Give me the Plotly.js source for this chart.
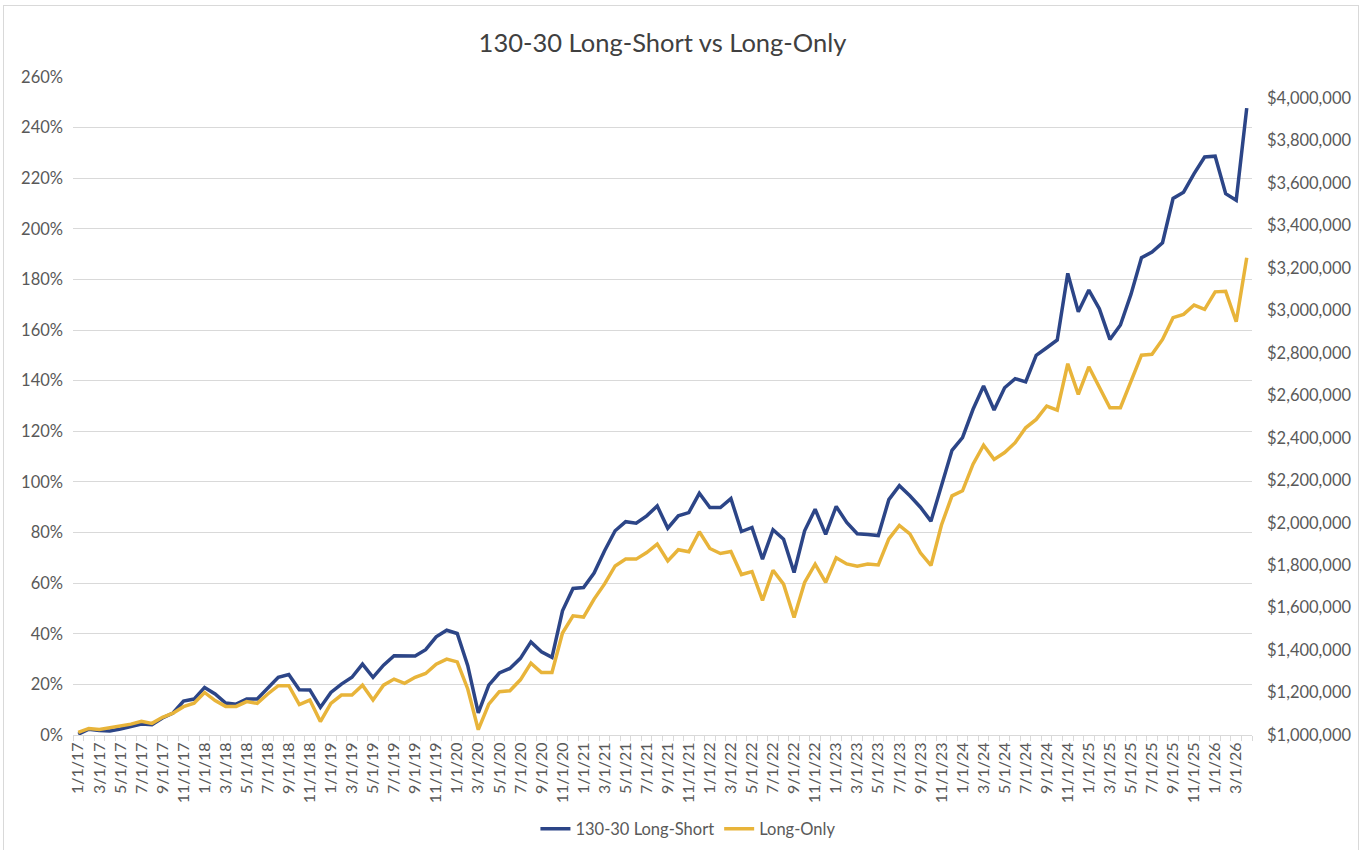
<!DOCTYPE html>
<html><head><meta charset="utf-8">
<script src="https://cdn.plot.ly/plotly-3.0.1.min.js"></script>
<style>
html,body{margin:0;padding:0;background:#fff;}
#frame{position:absolute;left:3px;top:5px;width:1356px;height:846px;border:1px solid #d9d9d9;border-bottom:none;box-sizing:border-box;}
#chart{position:absolute;left:4px;top:6px;width:1354px;height:844px;}
</style></head><body>
<div id="frame"></div>
<div id="chart"></div>
<script>
const months = [
"1/1/17","2/1/17","3/1/17","4/1/17","5/1/17","6/1/17","7/1/17","8/1/17","9/1/17","10/1/17","11/1/17","12/1/17",
"1/1/18","2/1/18","3/1/18","4/1/18","5/1/18","6/1/18","7/1/18","8/1/18","9/1/18","10/1/18","11/1/18","12/1/18",
"1/1/19","2/1/19","3/1/19","4/1/19","5/1/19","6/1/19","7/1/19","8/1/19","9/1/19","10/1/19","11/1/19","12/1/19",
"1/1/20","2/1/20","3/1/20","4/1/20","5/1/20","6/1/20","7/1/20","8/1/20","9/1/20","10/1/20","11/1/20","12/1/20",
"1/1/21","2/1/21","3/1/21","4/1/21","5/1/21","6/1/21","7/1/21","8/1/21","9/1/21","10/1/21","11/1/21","12/1/21",
"1/1/22","2/1/22","3/1/22","4/1/22","5/1/22","6/1/22","7/1/22","8/1/22","9/1/22","10/1/22","11/1/22","12/1/22",
"1/1/23","2/1/23","3/1/23","4/1/23","5/1/23","6/1/23","7/1/23","8/1/23","9/1/23","10/1/23","11/1/23","12/1/23",
"1/1/24","2/1/24","3/1/24","4/1/24","5/1/24","6/1/24","7/1/24","8/1/24","9/1/24","10/1/24","11/1/24","12/1/24",
"1/1/25","2/1/25","3/1/25","4/1/25","5/1/25","6/1/25","7/1/25","8/1/25","9/1/25","10/1/25","11/1/25","12/1/25",
"1/1/26","2/1/26","3/1/26","4/1/26"
];

// cumulative return, %
const longShort = [
0.3,2.3,1.8,1.6,2.4,3.4,4.3,4.1,6.7,8.7,13.4,14.2,
18.8,16.2,12.6,12.2,14.2,14.2,18.4,22.8,23.9,17.9,17.8,10.9,
16.8,20.1,22.8,28.0,22.8,27.6,31.3,31.1,31.2,33.7,38.8,41.4,
40.1,27.4,8.7,19.7,24.5,26.3,30.3,36.8,32.9,30.7,49.1,57.9,
58.3,64.0,72.8,80.7,84.3,83.7,86.6,90.5,81.7,86.6,87.9,95.5,
89.9,89.9,93.4,80.4,82.0,69.5,81.1,77.4,64.2,80.7,89.2,79.3,
90.3,84.0,79.5,79.2,78.8,93.0,98.5,94.5,90.0,84.5,98.0,112.5,
117.5,128.7,137.9,128.4,137.2,140.8,139.5,150.0,153.0,156.1,182.4,167.2,
175.8,168.4,156.3,162.0,174.1,188.6,190.8,194.5,212.0,214.5,221.8,228.4,
228.7,213.9,211.3,247.7
];

const longOnly = [
1.0,2.6,2.2,2.9,3.3,4.3,5.4,4.6,7.0,8.6,11.2,12.6,
16.8,13.6,11.3,11.3,13.2,12.5,16.2,19.5,19.5,12.0,13.8,5.3,
12.5,15.8,15.8,19.7,13.8,19.7,22.1,20.4,22.8,24.3,28.0,30.0,
28.9,18.2,2.1,12.2,17.1,17.5,21.8,28.4,24.7,24.7,40.3,47.1,
46.6,53.7,59.7,66.8,69.5,69.5,72.1,75.4,68.8,73.2,72.4,80.3,
73.7,71.7,72.5,63.4,64.6,53.2,65.1,59.6,46.4,60.3,67.5,60.3,
70.0,67.6,66.7,67.6,67.2,77.5,82.8,79.5,72.0,67.0,83.0,94.5,
96.5,107.0,114.5,108.9,111.6,115.5,121.4,124.7,130.0,128.4,146.7,134.6,
145.5,137.6,129.3,129.3,139.9,150.1,150.4,156.3,164.9,166.2,169.9,168.2,
175.1,175.3,163.3,188.6
];

const seriesNames = ["130-30 Long-Short", "Long-Only"];
const titleText = "130-30 Long-Short vs Long-Only";
const pctRange = [0, 260];
const dollarRange = [1000000, 4100000];

const tickText = months.map((m, i) => (i % 2 === 0 ? m : ""));

const FONT = "Lato, 'Open Sans', 'Liberation Sans', sans-serif";
const GREY = "#595959";

const traces = [
  {x: months, y: longShort, name: seriesNames[0], type: "scatter", mode: "lines",
   line: {color: "#2C4587", width: 3.5}, yaxis: "y"},
  {x: months, y: longOnly, name: seriesNames[1], type: "scatter", mode: "lines",
   line: {color: "#E8B43A", width: 3.5}, yaxis: "y"},
  // empty carrier so the secondary ($) axis is drawn
  {x: months, y: months.map(() => null), type: "scatter", mode: "lines", yaxis: "y2",
   showlegend: false, hoverinfo: "skip", line: {width: 0}}
];

const layout = {
  width: 1354, height: 844,
  margin: {l: 69, r: 106, t: 71, b: 115},
  paper_bgcolor: "#fff", plot_bgcolor: "#fff",
  font: {family: FONT, color: GREY, size: 16.5},
  title: {text: titleText, font: {family: FONT, size: 25.5, color: "#404040"},
          x: 0.5, xref: "paper", xanchor: "center", y: 1 - 37/844, yref: "container", yanchor: "middle"},
  showlegend: true,
  legend: {orientation: "h", x: 0.522, xanchor: "center", y: 1 - 823/844, yref: "container", yanchor: "middle",
           font: {family: FONT, size: 16.5, color: GREY}, itemwidth: 30, tracegroupgap: 0},
  xaxis: {type: "category", range: [-0.5, months.length - 0.5], tickmode: "array",
          tickvals: months, ticktext: tickText, tickangle: -90, tickson: "boundaries",
          ticks: "outside", ticklen: 5, tickcolor: "#d9d9d9", showline: true, linecolor: "#d9d9d9",
          linewidth: 1, showgrid: false, zeroline: false, tickfont: {size: 16, color: GREY}},
  yaxis: {range: pctRange, dtick: 20, ticksuffix: "%", showgrid: true, gridcolor: "#d9d9d9",
          gridwidth: 1, zeroline: false, showline: false, ticks: "", ticklabelstandoff: 9,
          tickfont: {size: 16.5, color: GREY}},
  yaxis2: {range: dollarRange, dtick: 200000, tick0: 1000000, tickformat: "$,.0f", overlaying: "y", side: "right",
           showgrid: false, zeroline: false, showline: false, ticks: "", ticklabelstandoff: 14,
           tickfont: {size: 16.5, color: GREY}}
};

Plotly.newPlot("chart", traces, layout, {displayModeBar: false, staticPlot: true});
</script>
</body></html>
